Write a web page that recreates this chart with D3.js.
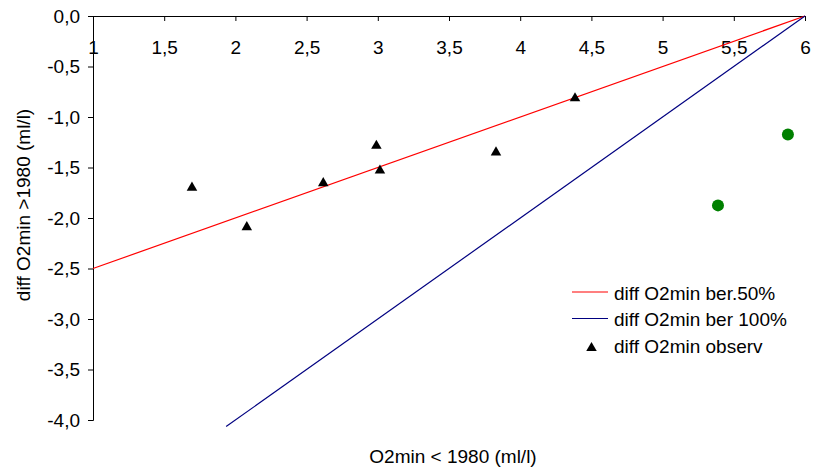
<!DOCTYPE html>
<html><head><meta charset="utf-8">
<script src="https://cdn.jsdelivr.net/npm/d3@7"></script>
<style>body{margin:0;background:#fff}svg{display:block;font-family:"Liberation Sans",Arial,sans-serif}</style>
</head><body>
<script>
const xTicks = [1,1.5,2,2.5,3,3.5,4,4.5,5,5.5,6];
const yTicks = [0,-0.5,-1,-1.5,-2,-2.5,-3,-3.5,-4];
const ber50X = [1,6];
const ber50Y = [-2.5,0];
const ber100X = [1.935,6];
const ber100Y = [-4.065,0];
const obsX = [1.695,2.08,2.617,2.99,3.015,3.83,4.385];
const obsY = [-1.70,-2.09,-1.655,-1.285,-1.53,-1.35,-0.815];
const greenX = [5.389,5.88];
const greenY = [-1.875,-1.173];
const legendLabels = ["diff O2min ber.50%","diff O2min ber 100%","diff O2min observ"];

const W=813,H=470;
const svg=d3.select("body").append("svg").attr("width",W).attr("height",H);
const x=d3.scaleLinear().domain([1,6]).range([93,805]);
const y=d3.scaleLinear().domain([0,-4]).range([16,420]);
const fmt=d=>d3.format(".1f")(d).replace(".",",").replace("−","-");
const fmtX=d=>String(d).replace(".",",");

// y axis
const ya=svg.append("g").attr("transform","translate(93,0)")
  .call(d3.axisLeft(y).tickValues(yTicks).tickSize(5).tickPadding(8).tickFormat(fmt));
// x axis at top, ticks pointing down
const xa=svg.append("g").attr("transform","translate(0,16)")
  .call(d3.axisBottom(x).tickValues(xTicks).tickSize(5).tickPadding(0).tickFormat(fmtX));
[ya,xa].forEach(g=>{
  g.select(".domain").attr("stroke","#000").attr("stroke-width",1);
  g.selectAll(".tick line").attr("stroke","#000");
  g.selectAll("text").attr("fill","#000").attr("font-size",19).attr("font-family","Liberation Sans, Arial, sans-serif");
});
ya.select(".domain").attr("d","M-5,16.5H0.5V420.5H-5");
xa.select(".domain").attr("d","M93,0.5H805");
xa.selectAll(".tick text").attr("y",0).attr("dy",null).attr("transform","translate(0,38)");

const line=d3.line().x(d=>x(d[0])).y(d=>y(d[1]));
svg.append("path").datum(ber50X.map((v,i)=>[v,ber50Y[i]])).attr("d",line)
  .attr("fill","none").attr("stroke","#ff0000").attr("stroke-width",1.2);
svg.append("path").datum(ber100X.map((v,i)=>[v,ber100Y[i]])).attr("d",line)
  .attr("fill","none").attr("stroke","#000080").attr("stroke-width",1.2);

const tri=d3.symbol().type(d3.symbolTriangle).size(48);
svg.selectAll(".obs").data(obsX.map((v,i)=>[v,obsY[i]])).enter().append("path")
  .attr("d",tri).attr("transform",d=>`translate(${x(d[0])},${y(d[1])})`).attr("fill","#000");
svg.selectAll(".grn").data(greenX.map((v,i)=>[v,greenY[i]])).enter().append("circle")
  .attr("cx",d=>x(d[0])).attr("cy",d=>y(d[1])).attr("r",6).attr("fill","#008000");

// legend
const lg=svg.append("g");
const rows=[292,318.5,348];
lg.append("line").attr("x1",572).attr("x2",608).attr("y1",rows[0]).attr("y2",rows[0]).attr("stroke","#ff0000").attr("stroke-width",1.2);
lg.append("line").attr("x1",572).attr("x2",608).attr("y1",rows[1]).attr("y2",rows[1]).attr("stroke","#000080").attr("stroke-width",1.2);
lg.append("path").attr("d",tri).attr("transform",`translate(591.5,${rows[2]})`).attr("fill","#000");
legendLabels.forEach((t,i)=>{
  lg.append("text").attr("x",614).attr("y",[299.5,326,353][i]).attr("font-size",19).attr("fill","#000").text(t);
});

svg.append("text").attr("x",453).attr("y",463).attr("text-anchor","middle").attr("font-size",19).attr("fill","#000").text("O2min < 1980 (ml/l)");
svg.append("text").attr("transform","translate(30,205) rotate(-90)").attr("text-anchor","middle").attr("font-size",19).attr("fill","#000").text("diff O2min >1980 (ml/l)");
</script>
</body></html>
